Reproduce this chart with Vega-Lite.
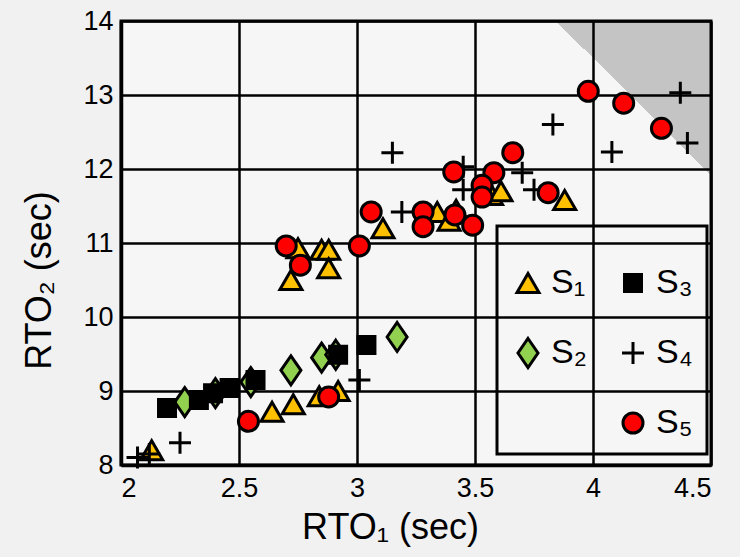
{
  "$schema": "https://vega.github.io/schema/vega-lite/v6.json",
  "width": 590,
  "height": 444,
  "autosize": {"type": "none"},
  "padding": {"left": 121, "top": 21, "right": 29, "bottom": 92},
  "background": "#f1f1f1",
  "view": {
    "stroke": "black",
    "strokeWidth": 3,
    "fill": {
      "gradient": "linear",
      "x1": 0.667, "y1": 0.053, "x2": 0.807, "y2": -0.053,
      "stops": [
        {"offset": 0, "color": "#f6f6f6"},
        {"offset": 0.5, "color": "#f6f6f6"},
        {"offset": 0.5, "color": "#c4c4c4"},
        {"offset": 1, "color": "#c4c4c4"}
      ]
    }
  },
  "config": {
    "font": "Liberation Sans, DejaVu Sans",
    "axis": {
      "grid": true,
      "gridColor": "black",
      "gridWidth": 2.5,
      "gridOpacity": 1,
      "domainColor": "black",
      "domainWidth": 3.5,
      "ticks": false,
      "labelColor": "black",
      "labelFontSize": 27,
      "labelFont": "Liberation Sans Narrow, Liberation Sans, DejaVu Sans",
      "titleColor": "black",
      "titleFontSize": 36,
      "titleFontWeight": "normal",
      "titleFont": "Liberation Sans, DejaVu Sans"
    }
  },
  "data": {
    "values": [
      {"s": "S₁", "x": 2.13, "y": 8.20},
      {"s": "S₁", "x": 2.64, "y": 8.72},
      {"s": "S₁", "x": 2.73, "y": 8.82},
      {"s": "S₁", "x": 2.84, "y": 8.93},
      {"s": "S₁", "x": 2.92, "y": 9.00},
      {"s": "S₁", "x": 2.72, "y": 10.50},
      {"s": "S₁", "x": 2.75, "y": 10.93},
      {"s": "S₁", "x": 2.85, "y": 10.91},
      {"s": "S₁", "x": 2.88, "y": 10.91},
      {"s": "S₁", "x": 2.88, "y": 10.66},
      {"s": "S₁", "x": 3.11, "y": 11.20},
      {"s": "S₁", "x": 3.34, "y": 11.42},
      {"s": "S₁", "x": 3.39, "y": 11.30},
      {"s": "S₁", "x": 3.42, "y": 11.45},
      {"s": "S₁", "x": 3.57, "y": 11.65},
      {"s": "S₁", "x": 3.61, "y": 11.70},
      {"s": "S₁", "x": 3.88, "y": 11.58},
      {"s": "S₂", "x": 2.27, "y": 8.85},
      {"s": "S₂", "x": 2.40, "y": 8.97},
      {"s": "S₂", "x": 2.55, "y": 9.12},
      {"s": "S₂", "x": 2.72, "y": 9.28},
      {"s": "S₂", "x": 2.85, "y": 9.45},
      {"s": "S₂", "x": 2.91, "y": 9.49},
      {"s": "S₂", "x": 3.17, "y": 9.73},
      {"s": "S₃", "x": 2.195, "y": 8.77},
      {"s": "S₃", "x": 2.33, "y": 8.88},
      {"s": "S₃", "x": 2.39, "y": 8.97},
      {"s": "S₃", "x": 2.46, "y": 9.04},
      {"s": "S₃", "x": 2.57, "y": 9.15},
      {"s": "S₃", "x": 2.92, "y": 9.49},
      {"s": "S₃", "x": 3.04, "y": 9.62},
      {"s": "S₄", "x": 2.07, "y": 8.10},
      {"s": "S₄", "x": 2.12, "y": 8.15},
      {"s": "S₄", "x": 2.25, "y": 8.30},
      {"s": "S₄", "x": 3.01, "y": 9.15},
      {"s": "S₄", "x": 3.15, "y": 12.22},
      {"s": "S₄", "x": 3.19, "y": 11.42},
      {"s": "S₄", "x": 3.45, "y": 12.03},
      {"s": "S₄", "x": 3.45, "y": 11.72},
      {"s": "S₄", "x": 3.70, "y": 11.95},
      {"s": "S₄", "x": 3.75, "y": 11.72},
      {"s": "S₄", "x": 3.83, "y": 12.60},
      {"s": "S₄", "x": 4.08, "y": 12.23},
      {"s": "S₄", "x": 4.37, "y": 13.03},
      {"s": "S₄", "x": 4.40, "y": 12.35},
      {"s": "S₅", "x": 2.54, "y": 8.59},
      {"s": "S₅", "x": 2.88, "y": 8.92},
      {"s": "S₅", "x": 2.70, "y": 10.96},
      {"s": "S₅", "x": 2.76, "y": 10.70},
      {"s": "S₅", "x": 3.01, "y": 10.96},
      {"s": "S₅", "x": 3.06, "y": 11.42},
      {"s": "S₅", "x": 3.28, "y": 11.42},
      {"s": "S₅", "x": 3.28, "y": 11.22},
      {"s": "S₅", "x": 3.415, "y": 11.38},
      {"s": "S₅", "x": 3.49, "y": 11.24},
      {"s": "S₅", "x": 3.41, "y": 11.96},
      {"s": "S₅", "x": 3.58, "y": 11.95},
      {"s": "S₅", "x": 3.66, "y": 12.22},
      {"s": "S₅", "x": 3.53, "y": 11.78},
      {"s": "S₅", "x": 3.53, "y": 11.62},
      {"s": "S₅", "x": 3.81, "y": 11.68},
      {"s": "S₅", "x": 3.98, "y": 13.05},
      {"s": "S₅", "x": 4.13, "y": 12.89},
      {"s": "S₅", "x": 4.29, "y": 12.55}
    ]
  },
  "mark": {"type": "point", "filled": true, "opacity": 1, "stroke": "black", "strokeWidth": 3, "size": 400, "clip": false},
  "encoding": {
    "x": {
      "field": "x", "type": "quantitative",
      "scale": {"domain": [2, 4.5], "nice": false, "zero": false},
      "axis": {"values": [2, 2.5, 3, 3.5, 4, 4.5], "format": "~g", "labelPadding": 10, "title": "RTO₁ (sec)", "titlePadding": 9, "titleX": 269}
    },
    "y": {
      "field": "y", "type": "quantitative",
      "scale": {"domain": [8, 14], "nice": false, "zero": false},
      "axis": {"values": [8, 9, 10, 11, 12, 13, 14], "format": "~g", "labelPadding": 8, "title": "RTO₂ (sec)", "titlePadding": 24, "titleY": 259}
    },
    "color": {
      "field": "s", "type": "nominal",
      "scale": {
        "domain": ["S₁", "S₂", " ", "S₃", "S₄", "S₅"],
        "range": ["#FFC000", "#92D050", "transparent", "#000000", "transparent", "#FF0000"]
      },
      "legend": {
        "title": " ",
        "titleFontSize": 20,
        "titlePadding": 6,
        "orient": "none",
        "legendX": 376,
        "legendY": 205,
        "columns": 2,
        "padding": 14,
        "strokeColor": "black",
        "labelFontSize": 34,
        "labelColor": "black",
        "labelFont": "Liberation Sans, DejaVu Sans",
        "symbolSize": 400,
        "symbolStrokeColor": "black",
        "symbolStrokeWidth": 3,
        "symbolOpacity": 1,
        "rowPadding": 32,
        "columnPadding": 29,
        "labelOffset": 6,
        "encode": {"legend": {"update": {"strokeWidth": {"value": 3}}}}
      }
    },
    "shape": {
      "field": "s", "type": "nominal",
      "scale": {
        "domain": ["S₁", "S₂", " ", "S₃", "S₄", "S₅"],
        "range": ["M0,-0.95L1.1,0.95L-1.1,0.95Z", "M0,-1.45L1,0L0,1.45L-1,0Z", "M0,0", "M-0.85,-0.85H0.85V0.85H-0.85Z", "M-1.1,0H1.1M0,-1.1V1.1", "circle"]
      }
    }
  }
}
